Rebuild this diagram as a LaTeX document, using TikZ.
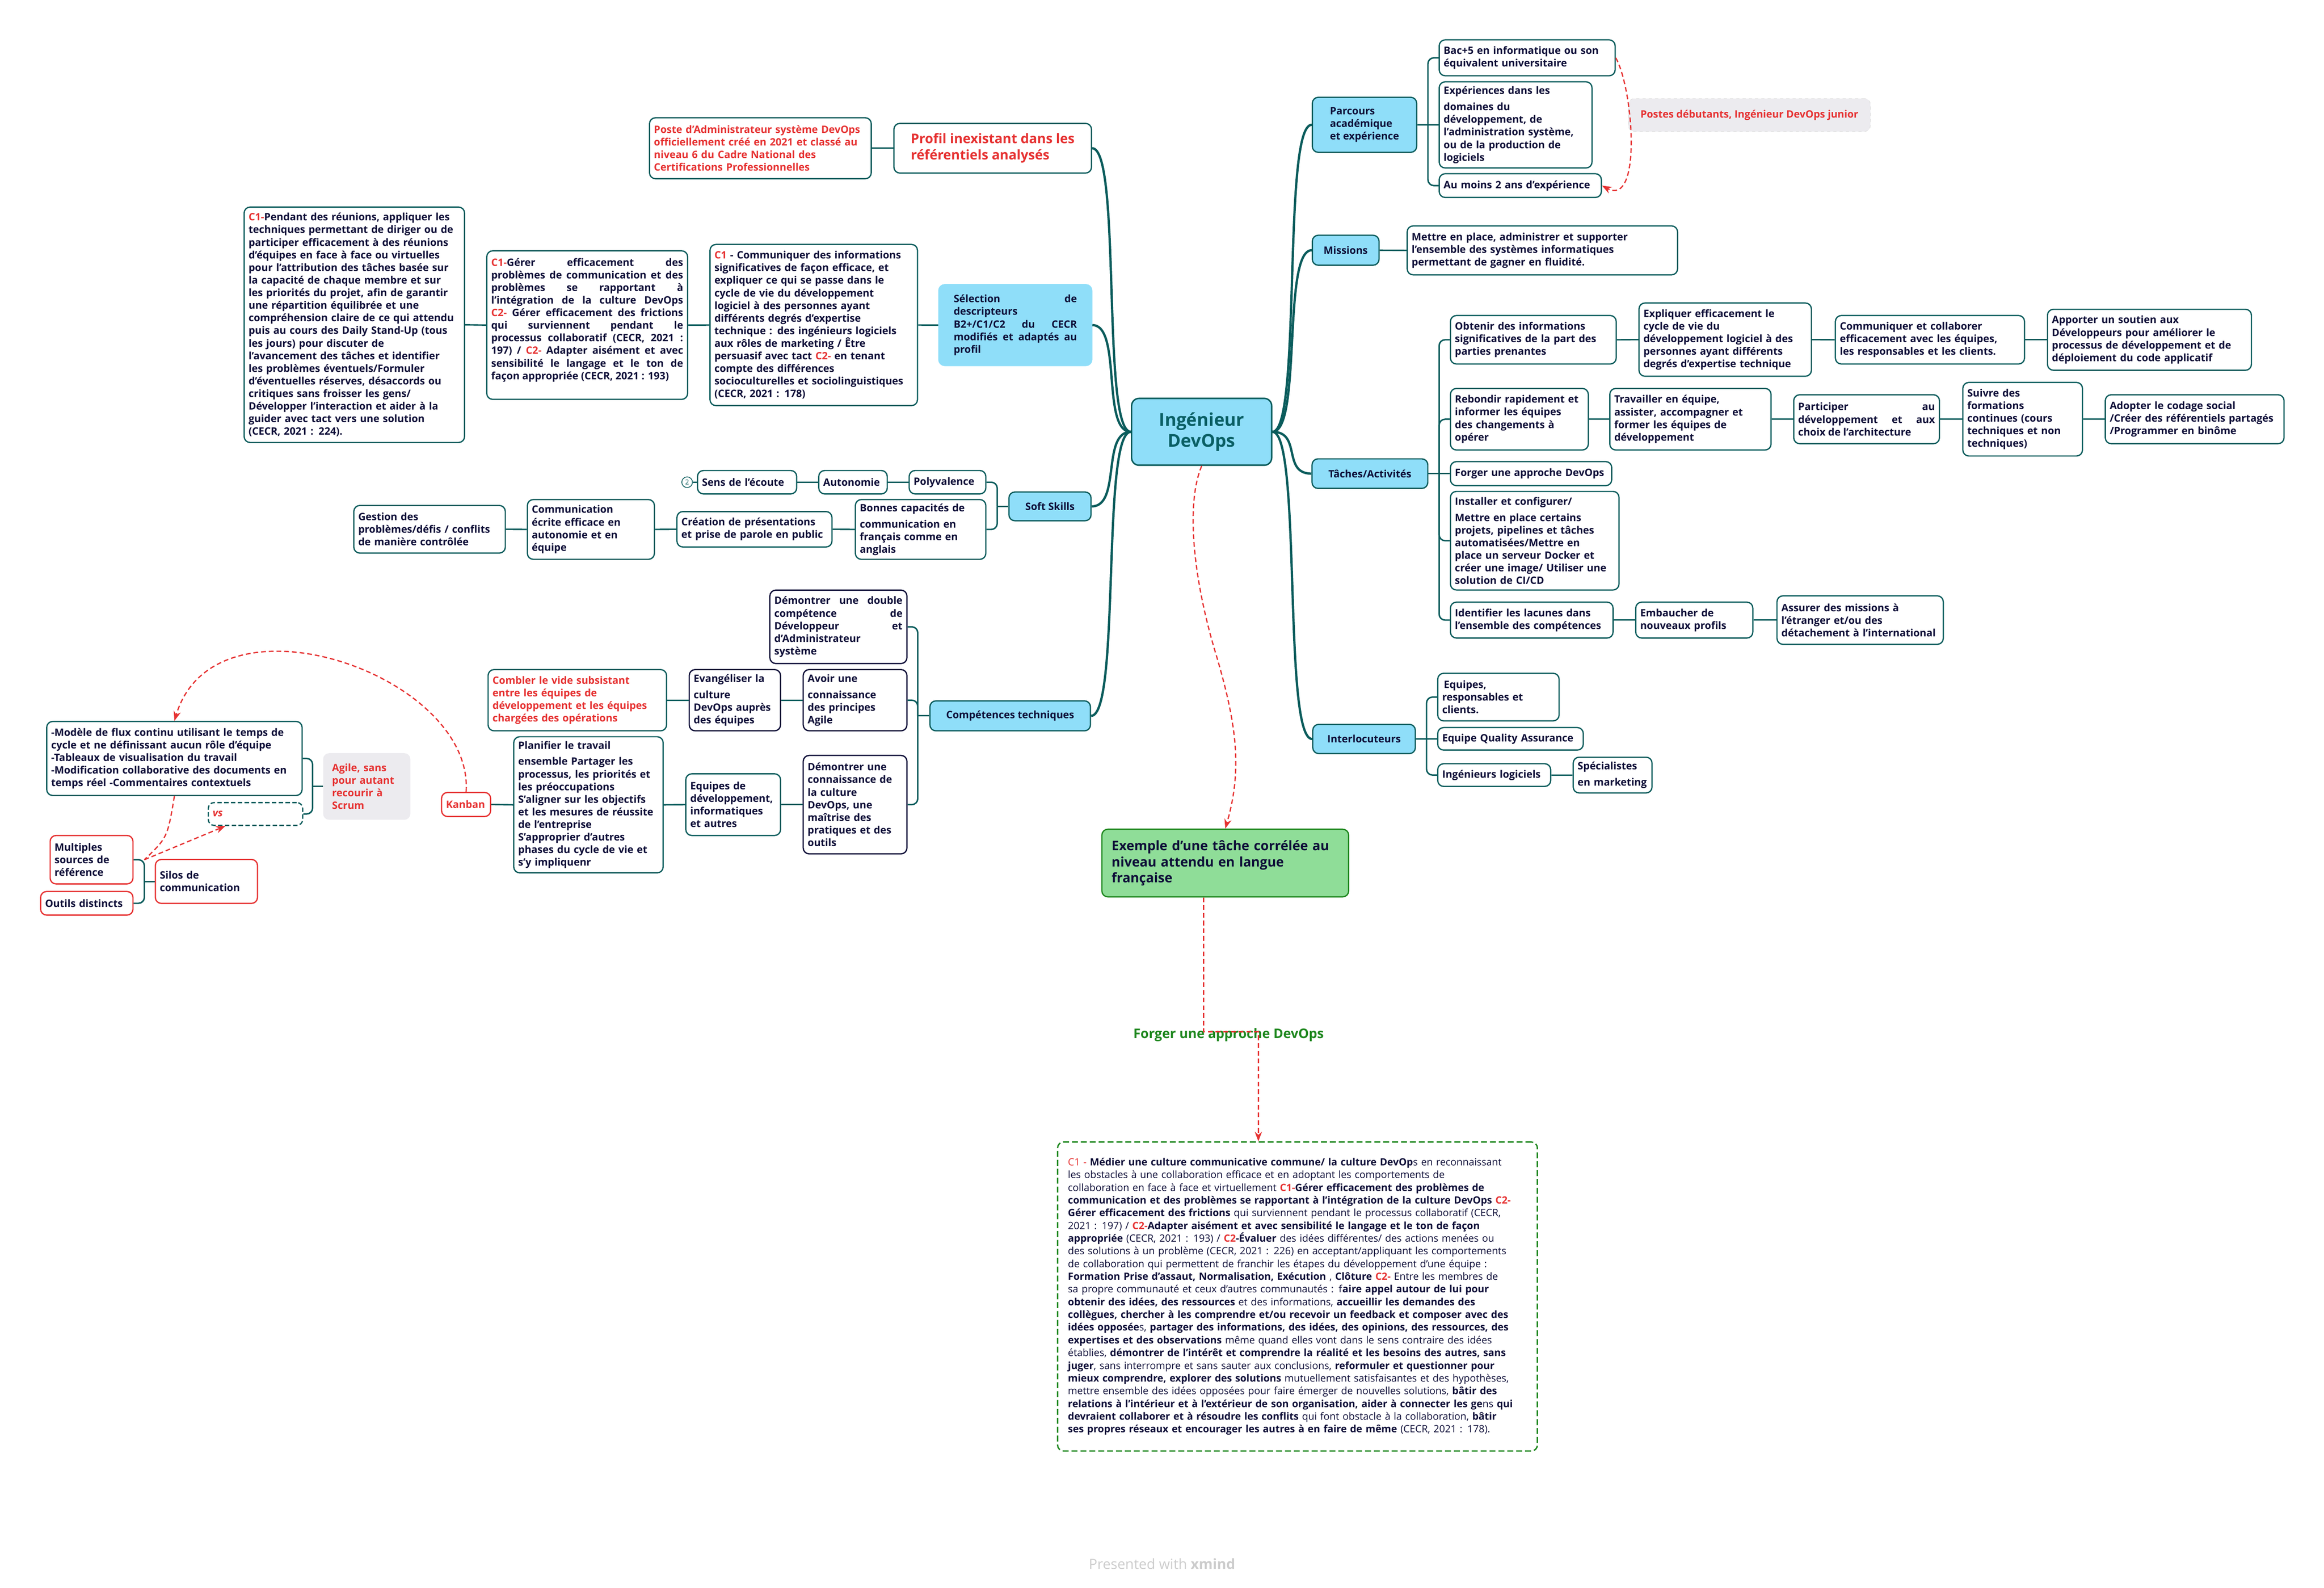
\documentclass[tikz,border=0pt]{standalone}
\usepackage{fontspec}
\setmainfont{Open Sans}
\usetikzlibrary{arrows,arrows.meta}
\setlength{\parindent}{0pt}

\definecolor{branch}{RGB}{10,92,92}
\definecolor{skyfill}{RGB}{143,222,249}
\definecolor{ink}{RGB}{14,14,56}
\definecolor{rootink}{RGB}{10,95,100}
\definecolor{alert}{RGB}{230,50,50}
\definecolor{leafgreen}{RGB}{143,221,152}
\definecolor{darkgreen}{RGB}{30,135,30}
\definecolor{notegray}{RGB}{236,235,239}

\newcommand\leaffont{\fontsize{9.8}{12.1}\selectfont\bfseries}
\newcommand\profilfont{\fontsize{12.8}{15.6}\selectfont\bfseries}
\newcommand\examplefont{\fontsize{12.7}{15.6}\selectfont\bfseries}
\newcommand\rootfont{\fontsize{17}{20}\selectfont\bfseries}
\newcommand\samplefont{\fontsize{9.6}{12.2}\selectfont}
\newcommand\redtag[1]{\textcolor{alert}{#1}}

\tikzstyle{leaf} = [rectangle, draw=branch, line width=1.2pt, rounded corners=2mm, fill=white, text=ink, font=\leaffont, align=left, anchor=west, inner xsep=1.5mm, inner ysep=1mm]
\tikzstyle{redleaf} = [leaf, draw=alert]
\tikzstyle{navyleaf} = [leaf, draw=ink]
\tikzstyle{topic} = [rectangle, draw=branch, line width=1.2pt, rounded corners=2mm, fill=skyfill, text=ink, font=\leaffont, align=left, anchor=west, inner sep=1mm]
\tikzstyle{root} = [rectangle, draw=branch, line width=1.4pt, rounded corners=2.5mm, fill=skyfill, text=rootink, font=\rootfont, align=center, anchor=west, minimum width=47.25mm, minimum height=22.55mm]
\tikzstyle{note} = [rectangle, rounded corners=2mm, fill=notegray, text=alert, font=\leaffont, anchor=west]
\tikzset{link/.style = {draw=branch, line width=1.4pt},
  fork/.style = {link, rounded corners=2mm},
  trunk/.style = {draw=branch, line width=2.2pt},
  rel/.style = {draw=alert, line width=1.2pt, dash pattern=on 1.6mm off 1mm},
  relarrow/.style = {rel, >=Stealth, -{>[scale=1.1]}}
}

\begin{document}
\begin{tikzpicture}[x=0.5mm, y=-0.5mm]
  \fill[white] (0,0) rectangle (1568,1071);
  \useasboundingbox (0,0) rectangle (1568,1071);

  % vertices
  \node[root] (root) at (763,291.3) {Ingénieur\\DevOps};

  % right side
  \node[topic, minimum width=35.2mm, minimum height=18.55mm] (parc) at (885,84.2) {Parcours\\académique\\et expérience};
  \node[leaf, text width=56.35mm, minimum height=12.1mm] (bac) at (970.6,39) {Bac+5 en informatique ou son\\équivalent universitaire};
  \node[leaf, text width=48.55mm, minimum height=29.05mm] (exper) at (970.6,84.25) {Expériences dans les\\[3.5pt]domaines du\\développement, de\\l’administration système,\\ou de la production de\\logiciels};
  \node[leaf, text width=51.7mm, minimum height=8mm] (aumoins) at (970.6,125.2) {Au moins 2 ans d'expérience};
  \node[note, draw=gray!30, dashed, minimum width=81.65mm, minimum height=11.1mm] (postes) at (1098.5,77.6) {Postes débutants, Ingénieur DevOps junior};

  \node[topic, minimum width=22.5mm, minimum height=10.1mm] (miss) at (885,168.8) {Missions};
  \node[leaf, text width=88.2mm, minimum height=16.5mm] (missc) at (949,168.9) {Mettre en place, administrer et supporter\\l’ensemble des systèmes informatiques\\permettant de gagner en fluidité.};

  \node[topic, minimum width=39.05mm, minimum height=9.95mm] (acts) at (884.8,319.5) {Tâches/Activités};
  \node[leaf, text width=52.9mm, minimum height=16.35mm] (obtenir) at (978.2,229.2) {Obtenir des informations\\significatives de la part des\\parties prenantes};
  \node[leaf, text width=55.15mm, minimum height=24.7mm] (expliq) at (1105.4,229.1) {Expliquer efficacement le\\cycle de vie du\\développement logiciel à des\\personnes ayant différents\\degrés d'expertise technique};
  \node[leaf, text width=60.8mm, minimum height=16.35mm] (commu) at (1237.9,229.2) {Communiquer et collaborer\\efficacement avec les équipes,\\les responsables et les clients.};
  \node[leaf, text width=65.8mm, minimum height=20.55mm] (apport) at (1381,229.2) {Apporter un soutien aux\\Développeurs pour améliorer le\\processus de développement et de\\déploiement du code applicatif};
  \node[leaf, text width=43.5mm, minimum height=20.75mm] (rebond) at (978.2,282.8) {Rebondir rapidement et\\informer les équipes\\des changements à\\opérer};
  \node[leaf, text width=51.4mm, minimum height=20.75mm] (travail) at (1085.7,282.8) {Travailler en équipe,\\assister, accompagner et\\former les équipes de\\développement};
  \node[leaf, align=justify, text width=46.15mm, minimum height=16.5mm] (partic) at (1209.8,282.8) {Participer au\linebreak développement et aux\linebreak choix de l’architecture};
  \node[leaf, text width=37.35mm, minimum height=24.8mm] (suivre) at (1323.9,282.8) {Suivre des\\formations\\continues (cours\\techniques et non\\techniques)};
  \node[leaf, text width=57.3mm, minimum height=16.5mm] (adopt) at (1420,282.8) {Adopter le codage social\\/Créer des référentiels partagés\\/Programmer en binôme};
  \node[leaf, text width=51.4mm, minimum height=8.1mm] (forger) at (978.2,319.5) {Forger une approche DevOps};
  \node[leaf, text width=53.85mm, minimum height=33.25mm] (install) at (978.2,364.75) {Installer et configurer/\\[3.5pt]Mettre en place certains\\projets, pipelines et tâches\\automatisées/Mettre en\\place un serveur Docker et\\créer une image/ Utiliser une\\solution de CI/CD};
  \node[leaf, text width=51.85mm, minimum height=12.1mm] (identif) at (978.2,418.3) {Identifier les lacunes dans\\l'ensemble des compétences};
  \node[leaf, text width=36.5mm, minimum height=12.1mm] (embauch) at (1103.2,418.3) {Embaucher de\\nouveaux profils};
  \node[leaf, text width=53.1mm, minimum height=16.35mm] (assur) at (1198.5,418.3) {Assurer des missions à\\l'étranger et/ou des\\détachement à l'international};

  \node[topic, minimum width=34.6mm, minimum height=9.85mm] (inter) at (885.3,498.5) {Interlocuteurs};
  \node[leaf, text width=37.95mm, minimum height=16.05mm] (equipes) at (969.6,470.25) {\,Equipes,\\responsables et\\clients.};
  \node[leaf, text width=46.1mm, minimum height=7.6mm] (qa) at (969.6,498.4) {Equipe Quality Assurance};
  \node[leaf, text width=35.1mm, minimum height=7.65mm] (ingen) at (969.6,522.85) {Ingénieurs logiciels};
  \node[leaf, text width=23.6mm, minimum height=12.05mm] (special) at (1061,522.85) {Spécialistes\\[3.5pt]en marketing};

  % left side
  \node[leaf, text=alert, font=\profilfont, minimum width=66.65mm, minimum height=16.75mm] (profil) at (602.7,100) {Profil inexistant dans les\\référentiels analysés};
  \node[leaf, text=alert, text width=71.8mm, minimum height=20.55mm] (poste) at (437.8,100) {Poste d’Administrateur système DevOps\\officiellement créé en 2021 et classé au\\niveau 6 du Cadre National des\\Certifications Professionnelles};

  \node[topic, draw=skyfill, align=justify, text width=41.6mm, minimum width=51.6mm, minimum height=27.25mm] (selec) at (633,219.3) {Sélection de\linebreak descripteurs\linebreak B2+/C1/C2 du CECR\linebreak modifiés et adaptés au\linebreak profil};
  \node[leaf, text width=67mm, minimum height=54.35mm] (c1comm) at (478.6,219.25) {\redtag{C1} - Communiquer des informations\\significatives de façon efficace, et\\expliquer ce qui se passe dans le\\cycle de vie du développement\\logiciel à des personnes ayant\\différents degrés d'expertise\\technique : des ingénieurs logiciels\\aux rôles de marketing / Être\\persuasif avec tact \redtag{C2-} en tenant\\compte des différences\\socioculturelles et sociolinguistiques\\(CECR, 2021 : 178)};
  \node[leaf, align=justify, text width=64.75mm, minimum height=50.1mm] (c1ger) at (328,219.3) {\redtag{C1-}Gérer efficacement des\linebreak problèmes de communication et des\linebreak problèmes se rapportant à\linebreak l’intégration de la culture DevOps\linebreak \redtag{C2-} Gérer efficacement des frictions\linebreak qui surviennent pendant le\linebreak processus collaboratif (CECR, 2021 :\linebreak 197) / \redtag{C2-} Adapter aisément et avec\linebreak sensibilité le langage et le ton de\linebreak façon appropriée (CECR, 2021 : 193)\\ \mbox{}};
  \node[leaf, text width=71.35mm, minimum height=79.4mm] (c1pend) at (164.3,219.1) {\redtag{C1-}Pendant des réunions, appliquer les\\techniques permettant de diriger ou de\\participer efficacement à des réunions\\d'équipes en face à face ou virtuelles\\pour l'attribution des tâches basée sur\\la capacité de chaque membre et sur\\les priorités du projet, afin de garantir\\une répartition équilibrée et une\\compréhension claire de ce qui attendu\\puis au cours des Daily Stand-Up (tous\\les jours) pour discuter de\\l'avancement des tâches et identifier\\les problèmes éventuels/Formuler\\d’éventuelles réserves, désaccords ou\\critiques sans froisser les gens/\\Développer l’interaction et aider à la\\guider avec tact vers une solution\\(CECR, 2021 : 224).};

  \node[topic, minimum width=27.7mm, minimum height=9.7mm] (soft) at (680.3,341.6) {Soft Skills};
  \node[leaf, text width=22.85mm, minimum height=7.9mm] (poly) at (613,325.3) {Polyvalence};
  \node[leaf, text width=20.1mm, minimum height=7.9mm] (autono) at (552,325.3) {Autonomie};
  \node[leaf, text width=30.45mm, minimum height=7.9mm] (sens) at (470.2,325.3) {Sens de l’écoute};
  \node[circle, draw=branch, line width=0.7pt, inner sep=0pt, minimum size=3.6mm, text=branch, font=\fontsize{6.5}{7}\selectfont] (count) at (463.6,325.3) {2};
  \node[leaf, text width=41mm, minimum height=20.15mm] (bonnes) at (576.7,357.15) {Bonnes capacités de\\[3.5pt]communication en\\français comme en\\anglais};
  \node[leaf, text width=49.3mm, minimum height=11.95mm] (creat) at (456.3,357.05) {Création de présentations\\et prise de parole en public};
  \node[leaf, text width=39.85mm, minimum height=20.15mm] (comecr) at (355.4,357.15) {Communication\\écrite efficace en\\autonomie et en\\équipe};
  \node[leaf, text width=48.1mm, minimum height=16.05mm] (gestion) at (238.3,357.05) {Gestion des\\problèmes/défis / conflits\\de manière contrôlée};

  \node[topic, minimum width=54.15mm, minimum height=10.1mm] (comp) at (627,482.9) {Compétences techniques};
  \node[navyleaf, align=justify, text width=43.25mm, minimum height=24.75mm] (dbl) at (519,422.85) {Démontrer une double\linebreak compétence de\linebreak Développeur et\linebreak d’Administrateur\\système};
  \node[navyleaf, text width=32mm, minimum height=20.65mm] (avoir) at (541.5,472.35) {Avoir une\\[3.5pt]connaissance\\des principes\\Agile};
  \node[navyleaf, text width=27.8mm, minimum height=20.65mm] (evang) at (464.6,472.35) {Evangéliser la\\[3.5pt]culture\\DevOps auprès\\des équipes};
  \node[leaf, text=alert, text width=57.2mm, minimum height=20.65mm] (combler) at (328.9,472.35) {Combler le vide subsistant\\entre les équipes de\\développement et les équipes\\chargées des opérations};
  \node[navyleaf, text width=32mm, minimum height=33.2mm] (dconn) at (541.5,542.8) {Démontrer une\\connaissance de\\la culture\\DevOps, une\\maîtrise des\\pratiques et des\\outils};
  \node[leaf, text width=28.95mm, minimum height=20.8mm] (eqdev) at (462.3,542.8) {Equipes de\\développement,\\informatiques\\et autres};
  \node[leaf, text width=47.4mm, minimum height=45.9mm] (planif) at (346.2,542.9) {Planifier le travail\\[3.5pt]ensemble Partager les\\processus, les priorités et\\les préoccupations\\S’aligner sur les objectifs\\et les mesures de réussite\\de l’entreprise\\S'approprier d'autres\\phases du cycle de vie et\\s'y impliquenr};
  \node[redleaf, text=alert, text width=13.55mm, minimum height=8.1mm] (kanban) at (297.5,542.7) {Kanban};

  \node[leaf, text width=83.15mm, minimum height=24.95mm] (model) at (31.1,511.65) {-Modèle de flux continu utilisant le temps de\\cycle et ne définissant aucun rôle d’équipe\\-Tableaux de visualisation du travail\\-Modification collaborative des documents en\\temps réel -Commentaires contextuels};
  \node[leaf, dash pattern=on 1.5mm off 0.8mm, text=alert, font=\leaffont\itshape, text width=28.85mm, minimum height=7.7mm] (vs) at (140.1,549.1) {vs};
  \node[note, align=left, text width=23.4mm, inner xsep=3mm, minimum height=22.45mm] (agile) at (217.9,530.55) {Agile, sans\\pour autant\\recourir à\\Scrum};
  \node[redleaf, text width=24.95mm, minimum height=16.35mm] (multi) at (33.4,579.95) {Multiples\\sources de\\référence};
  \node[redleaf, text width=28.15mm, minimum height=7.95mm] (outils) at (27,609.35) {Outils distincts};
  \node[redleaf, text width=31.45mm, minimum height=14.8mm] (silos) at (104.4,594.6) {Silos de\\communication};

  % example
  \node[leaf, fill=leafgreen, draw=darkgreen, font=\examplefont, text width=76.65mm, inner xsep=3.3mm, minimum height=22.8mm] (example) at (743,582.2) {Exemple d'une tâche corrélée au\\niveau attendu en langue\\française};
  \node[font=\examplefont, text=darkgreen] (forgelabel) at (828.9,698) {Forger une approche DevOps};
  \node[leaf, draw=darkgreen, dash pattern=on 2mm off 1mm, line width=1.3pt, font=\samplefont, text width=154.85mm, inner xsep=3.5mm, minimum height=104.2mm] (sample) at (713.1,874.6) {\redtag{C1 -} \textbf{Médier une culture communicative commune/ la culture DevOp}s en reconnaissant\\
les obstacles à une collaboration efficace et en adoptant les comportements de\\
collaboration en face à face et virtuellement \textbf{\redtag{C1-}Gérer efficacement des problèmes de}\\
\textbf{communication et des problèmes se rapportant à l’intégration de la culture DevOps \redtag{C2-}}\\
\textbf{Gérer efficacement des frictions} qui surviennent pendant le processus collaboratif (CECR,\\
2021 : 197) / \textbf{\redtag{C2-}Adapter aisément et avec sensibilité le langage et le ton de façon}\\
\textbf{appropriée} (CECR, 2021 : 193) / \textbf{\redtag{C2}-Évaluer} des idées différentes/ des actions menées ou\\
des solutions à un problème (CECR, 2021 : 226) en acceptant/appliquant les comportements\\
de collaboration qui permettent de franchir les étapes du développement d'une équipe :\\
\textbf{Formation Prise d'assaut, Normalisation, Exécution} , \textbf{Clôture} \textbf{\redtag{C2-}} Entre les membres de\\
sa propre communauté et ceux d’autres communautés : f\textbf{aire appel autour de lui pour}\\
\textbf{obtenir des idées, des ressources} et des informations, \textbf{accueillir les demandes des}\\
\textbf{collègues, chercher à les comprendre et/ou recevoir un feedback et composer avec des}\\
\textbf{idées opposée}s, \textbf{partager des informations, des idées, des opinions, des ressources, des}\\
\textbf{expertises et des observations} même quand elles vont dans le sens contraire des idées\\
établies, \textbf{démontrer de l’intérêt et comprendre la réalité et les besoins des autres, sans}\\
\textbf{juger}, sans interrompre et sans sauter aux conclusions, \textbf{reformuler et questionner pour}\\
\textbf{mieux comprendre, explorer des solutions} mutuellement satisfaisantes et des hypothèses,\\
mettre ensemble des idées opposées pour faire émerger de nouvelles solutions, \textbf{bâtir des}\\
\textbf{relations à l’intérieur et à l’extérieur de son organisation, aider à connecter les ge}ns \textbf{qui}\\
\textbf{devraient collaborer et à résoudre les conflits} qui font obstacle à la collaboration, \textbf{bâtir}\\
\textbf{ses propres réseaux et encourager les autres à en faire de même} (CECR, 2021 : 178).};
  \node[font=\fontsize{13.5}{15}\selectfont, text=gray!40] (credit) at (784,1055) {Presented with \textbf{xmind}};

  %branches
  \draw[trunk] (root.east) .. controls +(20,0) and +(-20,0) .. (parc.west);
  \draw[trunk] (root.east) .. controls +(20,0) and +(-20,0) .. (miss.west);
  \draw[trunk] (root.east) .. controls +(20,0) and +(-20,0) .. (acts.west);
  \draw[trunk] (root.east) .. controls +(20,0) and +(-20,0) .. (inter.west);
  \draw[trunk] (root.west) .. controls +(-20,0) and +(20,0) .. (profil.east);
  \draw[trunk] (root.west) .. controls +(-20,0) and +(20,0) .. (selec.east);
  \draw[trunk] (root.west) .. controls +(-20,0) and +(20,0) .. (soft.east);
  \draw[trunk] (root.west) .. controls +(-20,0) and +(20,0) .. (comp.east);

  %edges right
  \draw[link] (parc.east) -- coordinate (parcj) (exper.west);
  \draw[fork] (parcj) |- (bac.west);
  \draw[fork] (parcj) |- (aumoins.west);
  \draw[link] (miss.east) -- (missc.west);
  \draw[link] (acts.east) -- coordinate (actsj) (forger.west);
  \draw[fork] (actsj) |- (obtenir.west);
  \draw[fork] (actsj) |- (rebond.west);
  \draw[fork] (actsj) |- (install.west);
  \draw[fork] (actsj) |- (identif.west);
  \draw[link] (obtenir.east) -- (expliq.west);
  \draw[link] (expliq.east) -- (commu.west);
  \draw[link] (commu.east) -- (apport.west);
  \draw[link] (rebond.east) -- (travail.west);
  \draw[link] (travail.east) -- (partic.west);
  \draw[link] (partic.east) -- (suivre.west);
  \draw[link] (suivre.east) -- (adopt.west);
  \draw[link] (identif.east) -- (embauch.west);
  \draw[link] (embauch.east) -- (assur.west);
  \draw[link] (inter.east) -- coordinate (interj) (qa.west);
  \draw[fork] (interj) |- (equipes.west);
  \draw[fork] (interj) |- (ingen.west);
  \draw[link] (ingen.east) -- (special.west);

  %edges left
  \draw[link] (poste.east) -- (profil.west);
  \draw[link] (c1comm.east) -- (selec.west);
  \draw[link] (c1ger.east) -- (c1comm.west);
  \draw[link] (c1pend.east) -- (c1ger.west);
  \draw[link] (soft.west) -- ++(-7.5,0) coordinate (softj);
  \draw[fork] (softj) |- (poly.east);
  \draw[fork] (softj) |- (bonnes.east);
  \draw[link] (autono.east) -- (poly.west);
  \draw[link] (sens.east) -- (autono.west);
  \draw[link] (count.east) -- (sens.west);
  \draw[link] (creat.east) -- (bonnes.west);
  \draw[link] (comecr.east) -- (creat.west);
  \draw[link] (gestion.east) -- (comecr.west);
  \draw[link] (comp.west) -- ++(-7.8,0) coordinate (compj);
  \draw[fork] (compj) |- (dbl.east);
  \draw[fork] (compj) |- (avoir.east);
  \draw[fork] (compj) |- (dconn.east);
  \draw[link] (evang.east) -- (avoir.west);
  \draw[link] (combler.east) -- (evang.west);
  \draw[link] (eqdev.east) -- (dconn.west);
  \draw[link] (planif.east) -- (eqdev.west);
  \draw[link] (kanban.east) -- (planif.west);
  \draw[link] (agile.west) -- ++(-7,0) coordinate (agilej);
  \draw[fork] (agilej) |- (model.east);
  \draw[fork] (agilej) |- (vs.east);
  \draw[link] (silos.west) -- ++(-7,0) coordinate (silosj);
  \draw[fork] (silosj) |- (multi.east);
  \draw[fork] (silosj) |- (outils.east);
  \coordinate (silostop) at (silosj |- multi.east);

  %relations
  \draw[relarrow] (bac.east) .. controls (1102,60) and (1108,140) .. (aumoins.east);
  \draw[relarrow] (kanban.north) .. controls (320,455) and (145,395) .. (model.north);
  \draw[rel] (model.south) .. controls (113,565) .. (silostop);
  \draw[relarrow] (silostop) -- ([xshift=6mm]vs.south west);
  \draw[relarrow] (root.south) .. controls (800,340) and (805,390) .. (820,440) .. controls (835,490) and (838,520) .. (example.north);
  \draw[relarrow] ([xshift=-7.3mm]example.south) -- ++(0,90.7) -| ([xshift=-13.2mm]sample.north);
\end{tikzpicture}
\end{document}
